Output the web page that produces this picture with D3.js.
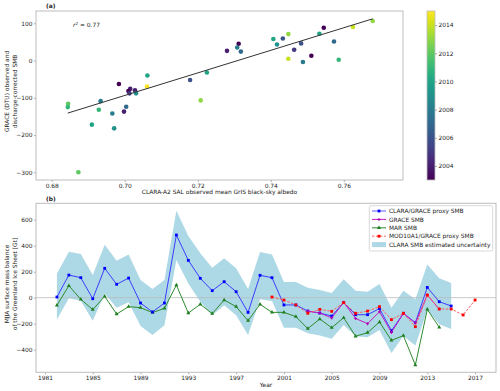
<!DOCTYPE html>
<html><head><meta charset="utf-8">
<script src="https://cdn.jsdelivr.net/npm/d3@7"></script>
<style>body{margin:0;background:#fff}svg{display:block;font-family:"DejaVu Sans",sans-serif}</style>
</head><body><svg id="c" width="500" height="391"></svg>
<script>
// ---------- Panel (a) data ----------
const scatterAlbedo = [0.7062,0.6984,0.7061,0.7015,0.7010,0.7028,0.7013,0.7031,0.6934,0.6845,0.6844,0.7004,0.6929,0.6998,0.6966,0.6910,0.6971,0.6873,0.7312,0.7280,0.7308,0.7318,0.7407,0.7417,0.7179,0.7225,0.7208,0.7433,0.7448,0.7464,0.7483,0.7448,0.7488,0.7511,0.7545,0.7533,0.7573,0.7586,0.7625,0.7679];
const scatterSMB = [-40,-63,-70,-76,-82,-80,-88,-88,-109,-116,-125,-124,-132,-137,-142,-172,-182,-300,45,26,35,24,58,43,-52,-32,-107,59,71,29,46,5,-4,13,88,72,51,2,90,106];
const scatterYear = [2010,2003,2015,2004,2003,2004,2005,2009,2008,2012,2011,2007,2011,2004,2008,2010,2009,2012,2003,2004,2008,2007,2010,2009,2006,2010,2013,2006,2013,2005,2006,2014,2008,2003,2003,2010,2007,2011,2014,2013];
const fitX = [0.6844, 0.7679];
const fitY = [-141, 112];
const aXTicks = [0.68,0.70,0.72,0.74,0.76];
const aYTicks = [-300,-200,-100,0,100];
const cbTicks = [2004,2006,2008,2010,2012,2014];

// ---------- Panel (b) data ----------
const years = d3.range(1982, 2016);
const claraSMB = [5,174,154,-8,226,103,151,-41,-110,-41,482,287,149,54,123,46,-113,172,154,-56,-56,-103,-118,-141,-38,-131,-131,-84,-254,-120,-192,79,-31,-64];
const claraUpper = [185,354,336,174,408,285,333,136,67,136,669,474,341,231,303,226,67,351,333,120,120,77,59,36,141,54,46,105,-77,53,-13,256,149,112];
const claraLower = [-167,-5,-23,-177,33,-77,-36,-218,-287,-213,290,110,-31,-136,-59,-136,-287,-13,-26,-231,-231,-274,-290,-315,-210,-297,-305,-249,-425,-295,-367,-95,-205,-240];
const marYears = d3.range(1982, 2015);
const marSMB = [-59,92,-13,-92,10,-126,-69,-77,-115,-82,97,-118,-51,-123,-18,-69,-177,-51,-113,-113,-146,-238,-164,-231,-154,-297,-269,-187,-328,-292,-518,-90,-228];
const graceYears = d3.range(2003, 2015);
const graceSMB = [-103,-118,-156,-36,-160,-200,-108,-267,-122,-195,20,-87];
const modYears = d3.range(2000, 2018);
const modSMB = [5,-18,-56,-120,-90,-105,-38,-120,-103,-69,-169,-120,-223,20,-87,-87,-133,-18];
const bXTicks = [1981,1985,1989,1993,1997,2001,2005,2009,2013,2017];
const bYTicks = [-400,-200,0,200,400,600];

const svg = d3.select("#c");
const fmtMinus = v => (v < 0 ? "\u2212" + Math.abs(v) : "" + v);
const FS = 5.9, FRAME = "#bdbdbd", TXT = "#222";

function styleAxis(g){
  g.select(".domain").remove();
  g.selectAll(".tick line").attr("stroke", "#888").attr("stroke-width", 0.7);
  g.selectAll(".tick text").attr("font-size", FS).attr("fill", TXT).attr("font-family", "DejaVu Sans");
}

// ---------------- Panel (a) ----------------
const ax = d3.scaleLinear().domain([0.6757, 0.7762]).range([36, 403]);
const ay = d3.scaleLinear().domain([-320.6, 133]).range([180, 11]);
const aG = svg.append("g");
aG.append("g").attr("transform", "translate(0,180)")
  .call(d3.axisBottom(ax).tickValues(aXTicks).tickFormat(d3.format(".2f")).tickSize(2).tickPadding(1.5)).call(styleAxis);
aG.append("g").attr("transform", "translate(36,0)")
  .call(d3.axisLeft(ay).tickValues(aYTicks).tickFormat(fmtMinus).tickSize(2).tickPadding(1.5)).call(styleAxis);
aG.append("rect").attr("x", 36).attr("y", 11).attr("width", 367).attr("height", 169)
  .attr("fill", "none").attr("stroke", FRAME).attr("stroke-width", 1);

const color = d3.scaleSequential(d3.interpolateViridis).domain([2003, 2015]);
aG.append("g").selectAll("circle").data(scatterAlbedo.map((v, i) => i)).join("circle")
  .attr("cx", i => ax(scatterAlbedo[i])).attr("cy", i => ay(scatterSMB[i]))
  .attr("r", 2.3).attr("fill", i => color(scatterYear[i]));
aG.append("line").attr("x1", ax(fitX[0])).attr("y1", ay(fitY[0])).attr("x2", ax(fitX[1])).attr("y2", ay(fitY[1]))
  .attr("stroke", "#333").attr("stroke-width", 1);

const r2 = aG.append("text").attr("x", 73).attr("y", 27).attr("font-size", FS).attr("fill", TXT);
r2.append("tspan").attr("font-style", "italic").text("r");
r2.append("tspan").attr("font-size", 4.2).attr("dy", -2.4).text("2");
r2.append("tspan").attr("dy", 2.4).text(" = 0.77");

aG.append("text").attr("x", 46).attr("y", 8).attr("font-size", FS).attr("font-weight", "bold").attr("fill", TXT).text("(a)");
aG.append("text").attr("x", 219.5).attr("y", 194.3).attr("text-anchor", "middle").attr("font-size", FS).attr("fill", TXT)
  .text("CLARA-A2 SAL observed mean GrIS black-sky albedo");
const aYL = aG.append("text").attr("transform", "translate(8.8,91.5) rotate(-90)").attr("text-anchor", "middle").attr("font-size", FS).attr("fill", TXT);
aYL.append("tspan").attr("x", 0).attr("dy", 0).text("GRACE (DTU) observed and");
aYL.append("tspan").attr("x", 0).attr("dy", 8.3).text("discharge-corrected SMB");

// colorbar
const cbY = d3.scaleLinear().domain([2003, 2015]).range([180, 11]);
const defs = svg.append("defs");
const grad = defs.append("linearGradient").attr("id", "vir").attr("x1", 0).attr("y1", 1).attr("x2", 0).attr("y2", 0);
d3.range(0, 1.0001, 0.05).forEach(t => grad.append("stop").attr("offset", t).attr("stop-color", d3.interpolateViridis(t)));
svg.append("rect").attr("x", 427).attr("y", 11).attr("width", 8).attr("height", 169).attr("fill", "url(#vir)")
  .attr("stroke", FRAME).attr("stroke-width", 0.8);
svg.append("g").attr("transform", "translate(435,0)")
  .call(d3.axisRight(cbY).tickValues(cbTicks).tickFormat(d3.format("d")).tickSize(2).tickPadding(1.5)).call(styleAxis);

// ---------------- Panel (b) ----------------
const bx = d3.scaleLinear().domain([1980.25, 2018.75]).range([36, 496]);
const by = d3.scaleLinear().domain([-574, 726]).range([372.3, 203.3]);
const bG = svg.append("g");
bG.append("g").attr("transform", "translate(0,372.3)")
  .call(d3.axisBottom(bx).tickValues(bXTicks).tickFormat(d3.format("d")).tickSize(2).tickPadding(1.5)).call(styleAxis);
bG.append("g").attr("transform", "translate(36,0)")
  .call(d3.axisLeft(by).tickValues(bYTicks).tickFormat(fmtMinus).tickSize(2).tickPadding(1.5)).call(styleAxis);

bG.append("path").datum(years.map((y, i) => i))
  .attr("d", d3.area().x(i => bx(years[i])).y0(i => by(claraLower[i])).y1(i => by(claraUpper[i])))
  .attr("fill", "#add8e6");
bG.append("line").attr("x1", 36).attr("x2", 496).attr("y1", by(0)).attr("y2", by(0)).attr("stroke", "#bbb").attr("stroke-width", 0.8);

const line = (xs, ys) => d3.line().x(i => bx(xs[i])).y(i => by(ys[i]))(xs.map((d, i) => i));

// MAR
bG.append("path").attr("d", line(marYears, marSMB)).attr("fill", "none").attr("stroke", "#2e8b2e").attr("stroke-width", 1);
bG.append("g").selectAll("path").data(marYears.map((d, i) => i)).join("path")
  .attr("d", d3.symbol(d3.symbolTriangle, 7)).attr("transform", i => `translate(${bx(marYears[i])},${by(marSMB[i])})`).attr("fill", "#1f7f1f");
// CLARA/GRACE proxy
bG.append("path").attr("d", line(years, claraSMB)).attr("fill", "none").attr("stroke", "#3d3dff").attr("stroke-width", 1);
bG.append("g").selectAll("rect").data(years.map((d, i) => i)).join("rect")
  .attr("x", i => bx(years[i]) - 1.4).attr("y", i => by(claraSMB[i]) - 1.4).attr("width", 2.8).attr("height", 2.8).attr("fill", "#0000ff");
// GRACE
bG.append("path").attr("d", line(graceYears, graceSMB)).attr("fill", "none").attr("stroke", "#c21ec2").attr("stroke-width", 1);
bG.append("g").selectAll("path").data(graceYears.map((d, i) => i)).join("path")
  .attr("d", d3.symbol(d3.symbolCross, 5)).attr("transform", i => `translate(${bx(graceYears[i])},${by(graceSMB[i])})`).attr("fill", "#b000b0");
// MOD10A1
bG.append("path").attr("d", line(modYears, modSMB)).attr("fill", "none").attr("stroke", "#ff5a5a").attr("stroke-width", 1).attr("stroke-dasharray", "2.5,1.5");
bG.append("g").selectAll("rect").data(modYears.map((d, i) => i)).join("rect")
  .attr("x", i => bx(modYears[i]) - 1.4).attr("y", i => by(modSMB[i]) - 1.4).attr("width", 2.8).attr("height", 2.8).attr("fill", "#ff0000");

bG.append("rect").attr("x", 36).attr("y", 203.3).attr("width", 460).attr("height", 169)
  .attr("fill", "none").attr("stroke", FRAME).attr("stroke-width", 1);

bG.append("text").attr("x", 46).attr("y", 200.5).attr("font-size", FS).attr("font-weight", "bold").attr("fill", TXT).text("(b)");
bG.append("text").attr("x", 266).attr("y", 386.5).attr("text-anchor", "middle").attr("font-size", FS).attr("fill", TXT).text("Year");
const bYL = bG.append("text").attr("transform", "translate(9,284) rotate(-90)").attr("text-anchor", "middle").attr("font-size", FS).attr("fill", TXT);
bYL.append("tspan").attr("x", 0).attr("dy", 0).text("MJJA surface mass balance");
bYL.append("tspan").attr("x", 0).attr("dy", 8.3).text("of the Greenland Ice Sheet [Gt]");

// legend
const legendNames = ["CLARA/GRACE proxy SMB", "GRACE SMB", "MAR SMB", "MOD10A1/GRACE proxy SMB", "CLARA SMB estimated uncertainty"];
const lg = bG.append("g");
lg.append("rect").attr("x", 369.3).attr("y", 205.7).attr("width", 123.4).attr("height", 45.3).attr("fill", "#fff").attr("fill-opacity", 0.85)
  .attr("stroke", "#d0d0d0").attr("stroke-width", 0.8).attr("rx", 1.5);
const ly = i => 211 + i * 8.4;
legendNames.forEach((name, i) => {
  const y = ly(i);
  if (i === 0) { lg.append("line").attr("x1", 372).attr("x2", 386).attr("y1", y).attr("y2", y).attr("stroke", "#8c8cff").attr("stroke-width", 1.4);
    lg.append("rect").attr("x", 377.6).attr("y", y - 1.4).attr("width", 2.8).attr("height", 2.8).attr("fill", "#0000ff"); }
  if (i === 1) { lg.append("line").attr("x1", 372).attr("x2", 386).attr("y1", y).attr("y2", y).attr("stroke", "#c21ec2").attr("stroke-width", 1);
    lg.append("path").attr("d", d3.symbol(d3.symbolCross, 5)).attr("transform", `translate(379,${y})`).attr("fill", "#b000b0"); }
  if (i === 2) { lg.append("line").attr("x1", 372).attr("x2", 386).attr("y1", y).attr("y2", y).attr("stroke", "#2e8b2e").attr("stroke-width", 1);
    lg.append("path").attr("d", d3.symbol(d3.symbolTriangle, 7)).attr("transform", `translate(379,${y})`).attr("fill", "#1f7f1f"); }
  if (i === 3) { lg.append("line").attr("x1", 372).attr("x2", 386).attr("y1", y).attr("y2", y).attr("stroke", "#ff9a9a").attr("stroke-width", 1.4).attr("stroke-dasharray", "2.5,1.5");
    lg.append("rect").attr("x", 377.6).attr("y", y - 1.4).attr("width", 2.8).attr("height", 2.8).attr("fill", "#ff0000"); }
  if (i === 4) { lg.append("rect").attr("x", 372).attr("y", y - 2.5).attr("width", 14).attr("height", 5).attr("fill", "#add8e6"); }
  lg.append("text").attr("x", 389).attr("y", y + 2.1).attr("font-size", FS).attr("fill", TXT).text(name);
});
</script></body></html>
